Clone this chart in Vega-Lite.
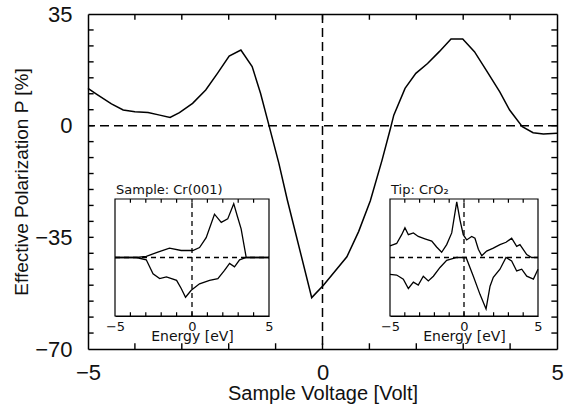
{
  "$schema": "https://vega.github.io/schema/vega-lite/v6.json",
  "width": 469,
  "height": 335,
  "autosize": "none",
  "padding": {"left": 88, "top": 14, "right": 13, "bottom": 58},
  "background": "white",
  "config": {
    "view": {"stroke": null},
    "font": "Liberation Sans",
    "axis": {"grid": false, "domainColor": "black", "tickColor": "black", "labelColor": "#111", "titleColor": "#111", "domainWidth": 1.5, "labelFont": "Liberation Sans", "titleFont": "Liberation Sans", "titleFontWeight": "normal", "labelOverlap": false, "labelFlush": false}
  },
  "datasets": {
    "main": [
      {"v": -5, "p": 11.7}, {"v": -4.82, "p": 9.9}, {"v": -4.5, "p": 6.8}, {"v": -4.25, "p": 4.9}, {"v": -4.0, "p": 4.4},
      {"v": -3.72, "p": 4.1}, {"v": -3.47, "p": 3.3}, {"v": -3.25, "p": 2.6}, {"v": -3.05, "p": 4.1}, {"v": -2.77, "p": 7.0},
      {"v": -2.49, "p": 11.2}, {"v": -2.24, "p": 16.4}, {"v": -1.99, "p": 21.8}, {"v": -1.74, "p": 23.7}, {"v": -1.5, "p": 18.5},
      {"v": -1.32, "p": 10.1}, {"v": -1.14, "p": 0}, {"v": -0.93, "p": -11.8}, {"v": -0.75, "p": -23.3}, {"v": -0.23, "p": -53.9},
      {"v": 0.02, "p": -50}, {"v": 0.52, "p": -41.1}, {"v": 0.77, "p": -33.2}, {"v": 1.02, "p": -23.5}, {"v": 1.27, "p": -10.8},
      {"v": 1.45, "p": -0.8}, {"v": 1.52, "p": 3.3}, {"v": 1.76, "p": 11.7}, {"v": 1.99, "p": 16.4}, {"v": 2.24, "p": 19.5},
      {"v": 2.49, "p": 23.2}, {"v": 2.74, "p": 27.2}, {"v": 2.99, "p": 27.2}, {"v": 3.24, "p": 23.2}, {"v": 3.49, "p": 17.4},
      {"v": 3.78, "p": 10.6}, {"v": 3.99, "p": 4.9}, {"v": 4.26, "p": -0.3}, {"v": 4.49, "p": -2.2}, {"v": 4.71, "p": -2.6},
      {"v": 5, "p": -2.4}
    ],
    "cr": [
      {"s": "up", "e": -5, "d": 0}, {"s": "up", "e": -3.62, "d": 0}, {"s": "up", "e": -2.97, "d": 0.2}, {"s": "up", "e": -2.22, "d": 0.9},
      {"s": "up", "e": -1.46, "d": 1.6}, {"s": "up", "e": -0.7, "d": 1.2}, {"s": "up", "e": 0.05, "d": 1.2}, {"s": "up", "e": 0.49, "d": 1.7},
      {"s": "up", "e": 0.92, "d": 3.4}, {"s": "up", "e": 1.46, "d": 7.4}, {"s": "up", "e": 1.9, "d": 6.0}, {"s": "up", "e": 2.32, "d": 6.6},
      {"s": "up", "e": 2.71, "d": 9.2}, {"s": "up", "e": 2.94, "d": 7.1}, {"s": "up", "e": 3.19, "d": 4.9}, {"s": "up", "e": 3.52, "d": 0},
      {"s": "up", "e": 5, "d": 0},
      {"s": "down", "e": -5, "d": 0}, {"s": "down", "e": -3.62, "d": 0}, {"s": "down", "e": -2.97, "d": -0.4}, {"s": "down", "e": -2.53, "d": -2.8},
      {"s": "down", "e": -2.1, "d": -3.6}, {"s": "down", "e": -1.66, "d": -3.3}, {"s": "down", "e": -1.0, "d": -3.9}, {"s": "down", "e": -0.7, "d": -5.3},
      {"s": "down", "e": -0.42, "d": -6.8}, {"s": "down", "e": -0.05, "d": -5.6}, {"s": "down", "e": 0.49, "d": -4.5}, {"s": "down", "e": 1.14, "d": -3.9},
      {"s": "down", "e": 1.68, "d": -3.6}, {"s": "down", "e": 2.11, "d": -2.2}, {"s": "down", "e": 2.44, "d": -1.0}, {"s": "down", "e": 2.76, "d": -1.6},
      {"s": "down", "e": 3.09, "d": -0.4}, {"s": "down", "e": 3.52, "d": 0}, {"s": "down", "e": 5, "d": 0}
    ],
    "cro2": [
      {"s": "up", "e": -5, "d": 2.0}, {"s": "up", "e": -4.55, "d": 2.4}, {"s": "up", "e": -4.21, "d": 3.9}, {"s": "up", "e": -3.99, "d": 5.1},
      {"s": "up", "e": -3.76, "d": 3.9}, {"s": "up", "e": -3.42, "d": 4.2}, {"s": "up", "e": -3.09, "d": 3.6}, {"s": "up", "e": -2.64, "d": 3.2},
      {"s": "up", "e": -2.18, "d": 2.8}, {"s": "up", "e": -1.85, "d": 1.8}, {"s": "up", "e": -1.51, "d": 0.9}, {"s": "up", "e": -1.17, "d": 2.2},
      {"s": "up", "e": -0.83, "d": 4.2}, {"s": "up", "e": -0.49, "d": 9.5}, {"s": "up", "e": -0.27, "d": 6.4}, {"s": "up", "e": -0.05, "d": 3.9},
      {"s": "up", "e": 0.18, "d": 3.0}, {"s": "up", "e": 0.52, "d": 3.6}, {"s": "up", "e": 0.74, "d": 3.3}, {"s": "up", "e": 0.97, "d": 1.4},
      {"s": "up", "e": 1.2, "d": 0.3}, {"s": "up", "e": 1.53, "d": 1.1}, {"s": "up", "e": 1.98, "d": 1.6}, {"s": "up", "e": 2.43, "d": 2.2},
      {"s": "up", "e": 2.84, "d": 2.6}, {"s": "up", "e": 3.22, "d": 3.3}, {"s": "up", "e": 3.56, "d": 1.9}, {"s": "up", "e": 3.78, "d": 2.2},
      {"s": "up", "e": 4.24, "d": 0.5}, {"s": "up", "e": 4.57, "d": 0}, {"s": "up", "e": 5, "d": 0},
      {"s": "down", "e": -5, "d": -2.9}, {"s": "down", "e": -4.55, "d": -3.0}, {"s": "down", "e": -4.1, "d": -3.7}, {"s": "down", "e": -3.76, "d": -5.3},
      {"s": "down", "e": -3.42, "d": -4.2}, {"s": "down", "e": -3.09, "d": -4.7}, {"s": "down", "e": -2.75, "d": -3.2}, {"s": "down", "e": -2.41, "d": -4.0},
      {"s": "down", "e": -2.07, "d": -3.2}, {"s": "down", "e": -1.62, "d": -1.7}, {"s": "down", "e": -1.17, "d": -0.5}, {"s": "down", "e": -0.49, "d": 0},
      {"s": "down", "e": 0.14, "d": 0}, {"s": "down", "e": 0.63, "d": -3.2}, {"s": "down", "e": 1.08, "d": -6.3}, {"s": "down", "e": 1.49, "d": -8.8},
      {"s": "down", "e": 1.76, "d": -4.9}, {"s": "down", "e": 1.98, "d": -3.4}, {"s": "down", "e": 2.43, "d": -2.0}, {"s": "down", "e": 2.84, "d": 0},
      {"s": "down", "e": 3.22, "d": -0.6}, {"s": "down", "e": 3.56, "d": -2.3}, {"s": "down", "e": 3.9, "d": -2.0}, {"s": "down", "e": 4.24, "d": -3.2},
      {"s": "down", "e": 4.69, "d": -3.7}, {"s": "down", "e": 5, "d": -2.0}
    ],
    "zero": [{"z": 0}],
    "xt": [{"t": -4}, {"t": -3}, {"t": -2}, {"t": -1}, {"t": 0}, {"t": 1}, {"t": 2}, {"t": 3}, {"t": 4}],
    "yt": [{"t": -65}, {"t": -60}, {"t": -55}, {"t": -50}, {"t": -45}, {"t": -40}, {"t": -35}, {"t": -30}, {"t": -25}, {"t": -20}, {"t": -15}, {"t": -10}, {"t": -5}, {"t": 0}, {"t": 5}, {"t": 10}, {"t": 15}, {"t": 20}, {"t": 25}, {"t": 30}],
    "frame": [{"x1": -5, "x2": 5, "y1": -10, "y2": 10}],
    "cross": [{"x1": -5, "x2": 5, "y1": 0, "y2": 0}, {"x1": 0, "x2": 0, "y1": -10, "y2": 10}],
    "t1": [{"x": -5, "y": 10, "label": "Sample: Cr(001)"}],
    "t2": [{"x": -5, "y": 10, "label": "Tip: CrO₂"}]
  },
  "layer": [
    {
      "layer": [
        {
          "data": {"name": "main"},
          "mark": {"type": "line", "color": "black", "strokeWidth": 1.5},
          "encoding": {
            "x": {"field": "v", "type": "quantitative", "scale": {"domain": [-5, 5], "nice": false, "zero": false},
              "axis": {"orient": "bottom", "values": [-5, 0, 5], "ticks": false, "tickSize": 0, "labelPadding": 13, "labelFontSize": 22, "title": "Sample Voltage [Volt]", "titleFontSize": 20, "titlePadding": 0}},
            "y": {"field": "p", "type": "quantitative", "scale": {"domain": [-70, 35], "nice": false, "zero": false},
              "axis": {"orient": "left", "values": [-70, -35, 0, 35], "ticks": false, "tickSize": 0, "labelPadding": 16, "labelFontSize": 22, "title": "Effective Polarization P [%]", "titleFontSize": 19, "titlePadding": 3}}
          }
        },
        {
          "data": {"name": "zero"},
          "mark": {"type": "rule", "color": "black", "strokeWidth": 1.5, "strokeDash": [9, 5]},
          "encoding": {
            "x": {"field": "z", "type": "quantitative", "scale": {"domain": [-5, 5], "nice": false, "zero": false},
              "axis": {"orient": "top", "values": [0], "labels": false, "ticks": false, "title": null}}
          }
        },
        {
          "data": {"name": "zero"},
          "mark": {"type": "rule", "color": "black", "strokeWidth": 1.5, "strokeDash": [9, 5]},
          "encoding": {
            "y": {"field": "z", "type": "quantitative", "scale": {"domain": [-70, 35], "nice": false, "zero": false},
              "axis": {"orient": "right", "values": [0], "labels": false, "ticks": false, "title": null}}
          }
        },
        {
          "data": {"name": "xt"},
          "mark": {"type": "rule", "color": "black", "strokeWidth": 1.4},
          "encoding": {
            "x": {"field": "t", "type": "quantitative", "scale": {"domain": [-5, 5], "nice": false, "zero": false}, "axis": null},
            "y": {"datum": -70, "type": "quantitative", "scale": {"domain": [-70, 35], "nice": false, "zero": false}, "axis": null},
            "y2": {"datum": -68.2}
          }
        },
        {
          "data": {"name": "xt"},
          "mark": {"type": "rule", "color": "black", "strokeWidth": 1.4},
          "encoding": {
            "x": {"field": "t", "type": "quantitative", "scale": {"domain": [-5, 5], "nice": false, "zero": false}, "axis": null},
            "y": {"datum": 35, "type": "quantitative", "scale": {"domain": [-70, 35], "nice": false, "zero": false}, "axis": null},
            "y2": {"datum": 33.2}
          }
        },
        {
          "data": {"name": "yt"},
          "mark": {"type": "rule", "color": "black", "strokeWidth": 1.4},
          "encoding": {
            "y": {"field": "t", "type": "quantitative", "scale": {"domain": [-70, 35], "nice": false, "zero": false}, "axis": null},
            "x": {"datum": -5, "type": "quantitative", "scale": {"domain": [-5, 5], "nice": false, "zero": false}, "axis": null},
            "x2": {"datum": -4.88}
          }
        },
        {
          "data": {"name": "yt"},
          "mark": {"type": "rule", "color": "black", "strokeWidth": 1.4},
          "encoding": {
            "y": {"field": "t", "type": "quantitative", "scale": {"domain": [-70, 35], "nice": false, "zero": false}, "axis": null},
            "x": {"datum": 5, "type": "quantitative", "scale": {"domain": [-5, 5], "nice": false, "zero": false}, "axis": null},
            "x2": {"datum": 4.88}
          }
        }
      ],
      "resolve": {"axis": {"x": "independent", "y": "independent"}}
    },
    {
      "layer": [
        {
          "data": {"name": "cr"},
          "mark": {"type": "line", "color": "black", "strokeWidth": 1.3},
          "encoding": {
            "x": {"field": "e", "type": "quantitative", "scale": {"domain": [-5, 5], "range": [27, 181], "nice": false, "zero": false},
              "axis": {"orient": "bottom", "offset": -33, "values": [-5, 0, 5], "ticks": false, "tickSize": 0, "labelPadding": 4, "labelFontSize": 13, "labelFont": "DejaVu Sans", "title": "Energy [eV]", "titleFont": "DejaVu Sans", "titleFontSize": 14, "titlePadding": -4, "domainWidth": 1.2}},
            "y": {"field": "d", "type": "quantitative", "scale": {"domain": [-10, 10], "range": [302, 185], "nice": false, "zero": false}, "axis": null},
            "detail": {"field": "s"}
          }
        },
        {
          "data": {"name": "frame"},
          "mark": {"type": "rect", "fill": "transparent", "stroke": "black", "strokeWidth": 1.2},
          "encoding": {
            "x": {"field": "x1", "type": "quantitative", "scale": {"domain": [-5, 5], "range": [27, 181], "nice": false, "zero": false}, "axis": null},
            "x2": {"field": "x2"},
            "y": {"field": "y1", "type": "quantitative", "scale": {"domain": [-10, 10], "range": [302, 185], "nice": false, "zero": false}, "axis": null},
            "y2": {"field": "y2"}
          }
        },
        {
          "data": {"name": "cross"},
          "mark": {"type": "rule", "color": "black", "strokeWidth": 1.3, "strokeDash": [5, 4]},
          "encoding": {
            "x": {"field": "x1", "type": "quantitative", "scale": {"domain": [-5, 5], "range": [27, 181], "nice": false, "zero": false}, "axis": null},
            "x2": {"field": "x2"},
            "y": {"field": "y1", "type": "quantitative", "scale": {"domain": [-10, 10], "range": [302, 185], "nice": false, "zero": false}, "axis": null},
            "y2": {"field": "y2"}
          }
        },
        {
          "data": {"name": "xt"},
          "mark": {"type": "rule", "color": "black", "strokeWidth": 1.2},
          "encoding": {
            "x": {"field": "t", "type": "quantitative", "scale": {"domain": [-5, 5], "range": [27, 181], "nice": false, "zero": false}, "axis": null},
            "y": {"datum": -10, "type": "quantitative", "scale": {"domain": [-10, 10], "range": [302, 185], "nice": false, "zero": false}, "axis": null},
            "y2": {"datum": -9.35}
          }
        },
        {
          "data": {"name": "xt"},
          "mark": {"type": "rule", "color": "black", "strokeWidth": 1.2},
          "encoding": {
            "x": {"field": "t", "type": "quantitative", "scale": {"domain": [-5, 5], "range": [27, 181], "nice": false, "zero": false}, "axis": null},
            "y": {"datum": 10, "type": "quantitative", "scale": {"domain": [-10, 10], "range": [302, 185], "nice": false, "zero": false}, "axis": null},
            "y2": {"datum": 9.35}
          }
        },
        {
          "data": {"name": "t1"},
          "mark": {"type": "text", "align": "left", "baseline": "bottom", "dx": 1, "dy": -2, "font": "DejaVu Sans", "fontSize": 13, "color": "#111"},
          "encoding": {
            "x": {"field": "x", "type": "quantitative", "scale": {"domain": [-5, 5], "range": [27, 181], "nice": false, "zero": false}, "axis": null},
            "y": {"field": "y", "type": "quantitative", "scale": {"domain": [-10, 10], "range": [302, 185], "nice": false, "zero": false}, "axis": null},
            "text": {"field": "label"}
          }
        }
      ],
      "resolve": {"axis": {"x": "independent", "y": "independent"}}
    },
    {
      "layer": [
        {
          "data": {"name": "cro2"},
          "mark": {"type": "line", "color": "black", "strokeWidth": 1.3},
          "encoding": {
            "x": {"field": "e", "type": "quantitative", "scale": {"domain": [-5, 5], "range": [302, 450], "nice": false, "zero": false},
              "axis": {"orient": "bottom", "offset": -33, "values": [-5, 0, 5], "ticks": false, "tickSize": 0, "labelPadding": 4, "labelFontSize": 13, "labelFont": "DejaVu Sans", "title": "Energy [eV]", "titleFont": "DejaVu Sans", "titleFontSize": 14, "titlePadding": -4, "domainWidth": 1.2}},
            "y": {"field": "d", "type": "quantitative", "scale": {"domain": [-10, 10], "range": [302, 185], "nice": false, "zero": false}, "axis": null},
            "detail": {"field": "s"}
          }
        },
        {
          "data": {"name": "frame"},
          "mark": {"type": "rect", "fill": "transparent", "stroke": "black", "strokeWidth": 1.2},
          "encoding": {
            "x": {"field": "x1", "type": "quantitative", "scale": {"domain": [-5, 5], "range": [302, 450], "nice": false, "zero": false}, "axis": null},
            "x2": {"field": "x2"},
            "y": {"field": "y1", "type": "quantitative", "scale": {"domain": [-10, 10], "range": [302, 185], "nice": false, "zero": false}, "axis": null},
            "y2": {"field": "y2"}
          }
        },
        {
          "data": {"name": "cross"},
          "mark": {"type": "rule", "color": "black", "strokeWidth": 1.3, "strokeDash": [5, 4]},
          "encoding": {
            "x": {"field": "x1", "type": "quantitative", "scale": {"domain": [-5, 5], "range": [302, 450], "nice": false, "zero": false}, "axis": null},
            "x2": {"field": "x2"},
            "y": {"field": "y1", "type": "quantitative", "scale": {"domain": [-10, 10], "range": [302, 185], "nice": false, "zero": false}, "axis": null},
            "y2": {"field": "y2"}
          }
        },
        {
          "data": {"name": "xt"},
          "mark": {"type": "rule", "color": "black", "strokeWidth": 1.2},
          "encoding": {
            "x": {"field": "t", "type": "quantitative", "scale": {"domain": [-5, 5], "range": [302, 450], "nice": false, "zero": false}, "axis": null},
            "y": {"datum": -10, "type": "quantitative", "scale": {"domain": [-10, 10], "range": [302, 185], "nice": false, "zero": false}, "axis": null},
            "y2": {"datum": -9.35}
          }
        },
        {
          "data": {"name": "xt"},
          "mark": {"type": "rule", "color": "black", "strokeWidth": 1.2},
          "encoding": {
            "x": {"field": "t", "type": "quantitative", "scale": {"domain": [-5, 5], "range": [302, 450], "nice": false, "zero": false}, "axis": null},
            "y": {"datum": 10, "type": "quantitative", "scale": {"domain": [-10, 10], "range": [302, 185], "nice": false, "zero": false}, "axis": null},
            "y2": {"datum": 9.35}
          }
        },
        {
          "data": {"name": "t2"},
          "mark": {"type": "text", "align": "left", "baseline": "bottom", "dx": 1, "dy": -2, "font": "DejaVu Sans", "fontSize": 13, "color": "#111"},
          "encoding": {
            "x": {"field": "x", "type": "quantitative", "scale": {"domain": [-5, 5], "range": [302, 450], "nice": false, "zero": false}, "axis": null},
            "y": {"field": "y", "type": "quantitative", "scale": {"domain": [-10, 10], "range": [302, 185], "nice": false, "zero": false}, "axis": null},
            "text": {"field": "label"}
          }
        }
      ],
      "resolve": {"axis": {"x": "independent", "y": "independent"}}
    }
  ],
  "resolve": {"scale": {"x": "independent", "y": "independent"}}
}
